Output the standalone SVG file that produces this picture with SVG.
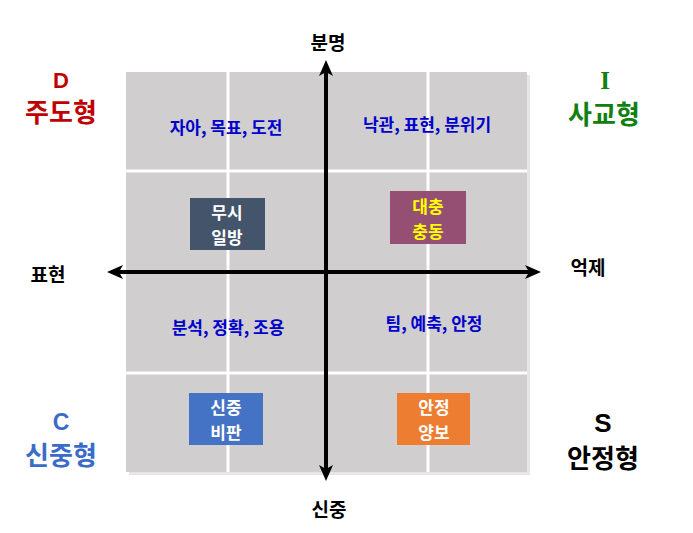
<svg xmlns="http://www.w3.org/2000/svg" width="693" height="533" viewBox="0 0 693 533">
<style>
text{font-family:"Noto Sans CJK KR","Liberation Sans",sans-serif;font-weight:700;text-anchor:middle;dominant-baseline:central}
.cell{font-size:17px;fill:#0000CC}
.box{font-size:17px;fill:#FFFFFF}
.axis{font-size:19px;fill:#000000}
.big{font-size:26px}
.grid{stroke:#FFFFFF;stroke-width:3}
.ax{stroke:#000000;stroke-width:4;fill:none}
</style>
<defs>
<marker id="ah" markerUnits="userSpaceOnUse" viewBox="-6 -8 18 16" refX="0" refY="0" markerWidth="18" markerHeight="16" orient="auto-start-reverse">
<path d="M-5,-7 L11,0 L-5,7 L-1,0 Z" fill="#000000"/>
</marker>
</defs>
<rect width="693" height="533" fill="#FFFFFF"/>
<g id="background">
<rect x="129" y="75" width="401" height="400" fill="#E7E6E6"/>
<rect x="126" y="72" width="401" height="400" fill="#D0CECE"/>
<line class="grid" x1="228" y1="72" x2="228" y2="472"/>
<line class="grid" x1="428" y1="72" x2="428" y2="472"/>
<line class="grid" x1="126" y1="171" x2="527" y2="171"/>
<line class="grid" x1="126" y1="373" x2="527" y2="373"/>
</g>
<g id="connectors">
<line class="ax" x1="326" y1="71" x2="326" y2="470" marker-start="url(#ah)" marker-end="url(#ah)"/>
<line class="ax" x1="118" y1="272" x2="530" y2="272" marker-start="url(#ah)" marker-end="url(#ah)"/>
</g>
<g id="q-d"><text class="cell" x="226" y="126">자아, 목표, 도전</text></g>
<g id="q-i"><text class="cell" x="427" y="123">낙관, 표현, 분위기</text></g>
<g id="q-c"><text class="cell" x="228" y="326">분석, 정확, 조용</text></g>
<g id="q-s"><text class="cell" x="434" y="322">팀, 예축, 안정</text></g>
<g id="box-d">
<rect x="190" y="198" width="75" height="52" fill="#44546A"/>
<text class="box" x="227" y="211.5">무시</text>
<text class="box" x="227" y="236.5">일방</text>
</g>
<g id="box-i">
<rect x="390" y="191" width="76" height="53" fill="#954F72"/>
<text class="box" x="428" y="205" style="fill:#FFFF00">대충</text>
<text class="box" x="428" y="230" style="fill:#FFFF00">충동</text>
</g>
<g id="box-c">
<rect x="189" y="393" width="74" height="52" fill="#4472C4"/>
<text class="box" x="226" y="406.5">신중</text>
<text class="box" x="226" y="431.5">비판</text>
</g>
<g id="box-s">
<rect x="397" y="393" width="73" height="52" fill="#ED7D31"/>
<text class="box" x="434" y="406.5">안정</text>
<text class="box" x="434" y="431.5">양보</text>
</g>
<g id="label-d">
<text x="61" y="80" style="font-size:22px;fill:#C00000;font-family:'Liberation Sans',sans-serif">D</text>
<text class="big" x="61" y="110" style="fill:#C00000">주도형</text>
</g>
<g id="label-i">
<text x="605" y="80" style="font-size:25px;fill:#108010;font-family:'Liberation Serif',serif">I</text>
<text class="big" x="604" y="112" style="fill:#108010">사교형</text>
</g>
<g id="label-c">
<text x="61" y="422" style="font-size:23px;fill:#3A6BC8;font-family:'Liberation Sans',sans-serif">C</text>
<text class="big" x="61" y="453" style="fill:#3A6BC8">신중형</text>
</g>
<g id="label-s">
<text x="603" y="423" style="font-size:26px;fill:#000000;font-family:'Liberation Sans',sans-serif">S</text>
<text class="big" x="603" y="456" style="fill:#000000">안정형</text>
</g>
<g id="axis-labels">
<text class="axis" x="48" y="273">표현</text>
<text class="axis" x="588" y="266">억제</text>
<text class="axis" x="328" y="41">분명</text>
<text class="axis" x="329" y="508">신중</text>
</g>
</svg>
